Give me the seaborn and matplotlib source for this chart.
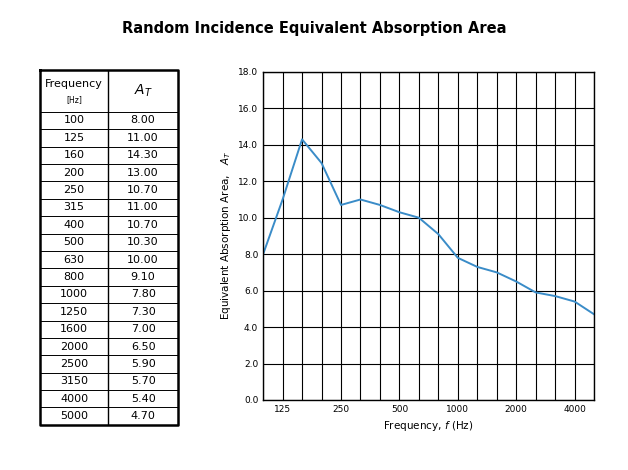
import matplotlib
matplotlib.use("Agg")
import matplotlib.pyplot as plt
import numpy as np
import pandas as pd
import seaborn as sns

freqs = [100, 125, 160, 200, 250, 315, 400, 500, 630, 800, 1000, 1250, 1600, 2000, 2500, 3150, 4000, 5000]
area = [8.00, 11.00, 14.30, 13.00, 10.70, 11.00, 10.70, 10.30, 10.00, 9.10, 7.80, 7.30, 7.00, 6.50, 5.90, 5.70, 5.40, 4.70]
tick_labels = ["125", "250", "500", "1000", "2000", "4000"]

df = pd.DataFrame({"idx": np.arange(len(freqs)), "area": area})

fig = plt.figure(figsize=(6.28, 4.70), dpi=100)
fig.text(0.5, 0.93, "Random Incidence Equivalent Absorption Area", ha="center",
         fontsize=10.5, fontweight="bold")

# table
tax = fig.add_axes([0.064, 0.096, 0.22, 0.755])
tax.set_xlim(0, 1)
n = len(freqs)
head_h = 2.4
total = head_h + n
tax.set_ylim(total, 0)
tax.axis("off")
split = 0.49
tax.text(split / 2, 0.8, "Frequency", ha="center", va="center", fontsize=8)
tax.text(split / 2, 1.7, "[Hz]", ha="center", va="center", fontsize=5.5)
tax.text((1 + split) / 2, 1.2, "$A_T$", ha="center", va="center", fontsize=10)
for i, (f, a) in enumerate(zip(freqs, area)):
    y = head_h + i + 0.5
    tax.text(split / 2, y, str(f), ha="center", va="center", fontsize=8)
    tax.text((1 + split) / 2, y, f"{a:.2f}", ha="center", va="center", fontsize=8)
    tax.plot([0, 1], [head_h + i, head_h + i], color="black", lw=0.7)
tax.plot([0, 1, 1, 0, 0], [0, 0, total, total, 0], color="black", lw=1.8, clip_on=False)
tax.plot([split, split], [0, total], color="black", lw=1.0)

# chart
ax = fig.add_axes([0.419, 0.149, 0.527, 0.698])
sns.lineplot(data=df, x="idx", y="area", ax=ax, color="#3a8cc8", lw=1.4)
ax.set_xlim(0, n - 1)
ax.set_ylim(0, 18)
ax.set_xticks(np.arange(n), minor=True)
ax.set_xticks([freqs.index(int(t)) for t in tick_labels])
ax.set_xticklabels(tick_labels, fontsize=6.5)
ax.set_yticks(np.arange(0, 19, 2))
ax.set_yticklabels([f"{v:.1f}" for v in np.arange(0, 19, 2)], fontsize=6.5)
ax.grid(True, which="both", axis="x", color="black", lw=0.8)
ax.grid(True, which="major", axis="y", color="black", lw=0.8)
ax.tick_params(which="both", length=0)
for s in ax.spines.values():
    s.set_linewidth(1.0)
ax.set_xlabel("Frequency, $f$ (Hz)", fontsize=7.5)
ax.set_ylabel("Equivalent Absorption Area,   $A_T$", fontsize=7.5)

fig.savefig("out.png", dpi=100)
